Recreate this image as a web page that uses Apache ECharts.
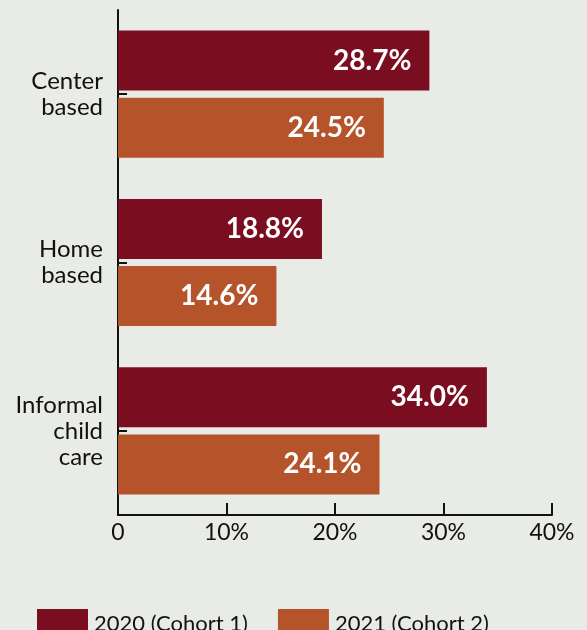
<!DOCTYPE html>
<html><head><meta charset="utf-8">
<script src="https://cdn.jsdelivr.net/npm/echarts@6/dist/echarts.min.js"></script>
<style>html,body{margin:0;padding:0;background:#e9ebe6;}#c{width:587px;height:630px;}</style>
</head><body><div id="c"></div>
<script>
var categories = ["Center\nbased", "Home\nbased", "Informal\nchild\ncare"];
var seriesNames = ["2020 (Cohort 1)", "2021 (Cohort 2)"];
var values2020 = [28.7, 18.8, 34.0];
var values2021 = [24.5, 14.6, 24.1];
var xTicks = [0, 10, 20, 30, 40];

var FONT = "Lato";
var chart = echarts.init(document.getElementById('c'));
chart.setOption({
  backgroundColor: '#e9ebe6',
  animation: false,
  grid: {left: 118, right: 35, top: 10, bottom: 115, containLabel: false},
  xAxis: {
    type: 'value', min: xTicks[0], max: xTicks[xTicks.length-1], interval: 10,
    axisLine: {show: true, lineStyle: {color: '#111', width: 2}},
    axisTick: {show: true, inside: true, length: 12, lineStyle: {color: '#111', width: 2}},
    splitLine: {show: false},
    axisLabel: {
      margin: 6, color: '#111', fontFamily: FONT, fontSize: 23,
      formatter: function(v){ return v === 0 ? '0' : v + '%'; }
    }
  },
  yAxis: {
    type: 'category', data: categories, inverse: true,
    axisLine: {show: true, lineStyle: {color: '#111', width: 2}},
    axisTick: {show: true, inside: true, alignWithLabel: true, length: 9, lineStyle: {color: '#111', width: 2}},
    axisLabel: {margin: 15, color: '#111', fontFamily: FONT, fontSize: 24, lineHeight: 26, align: 'right'}
  },
  legend: {
    left: 32, top: 604, itemWidth: 51, itemHeight: 30, itemGap: 30,
    icon: 'rect',
    textStyle: {fontFamily: FONT, fontSize: 22, color: '#111', padding: [0,0,0,1]},
    data: seriesNames
  },
  series: [
    {name: seriesNames[0], type: 'bar', data: values2020, barWidth: 60, barGap: '12%',
     itemStyle: {color: '#7a0e20'},
     label: {show: true, position: 'insideRight', distance: 18, color: '#fff', fontFamily: FONT, fontSize: 28, fontWeight: 'bold',
       formatter: function(p){ return p.value.toFixed(1) + '%'; }}},
    {name: seriesNames[1], type: 'bar', data: values2021, barWidth: 60, barGap: '12%',
     itemStyle: {color: '#b5532a'},
     label: {show: true, position: 'insideRight', distance: 18, color: '#fff', fontFamily: FONT, fontSize: 28, fontWeight: 'bold',
       formatter: function(p){ return p.value.toFixed(1) + '%'; }}}
  ]
});
</script></body></html>
